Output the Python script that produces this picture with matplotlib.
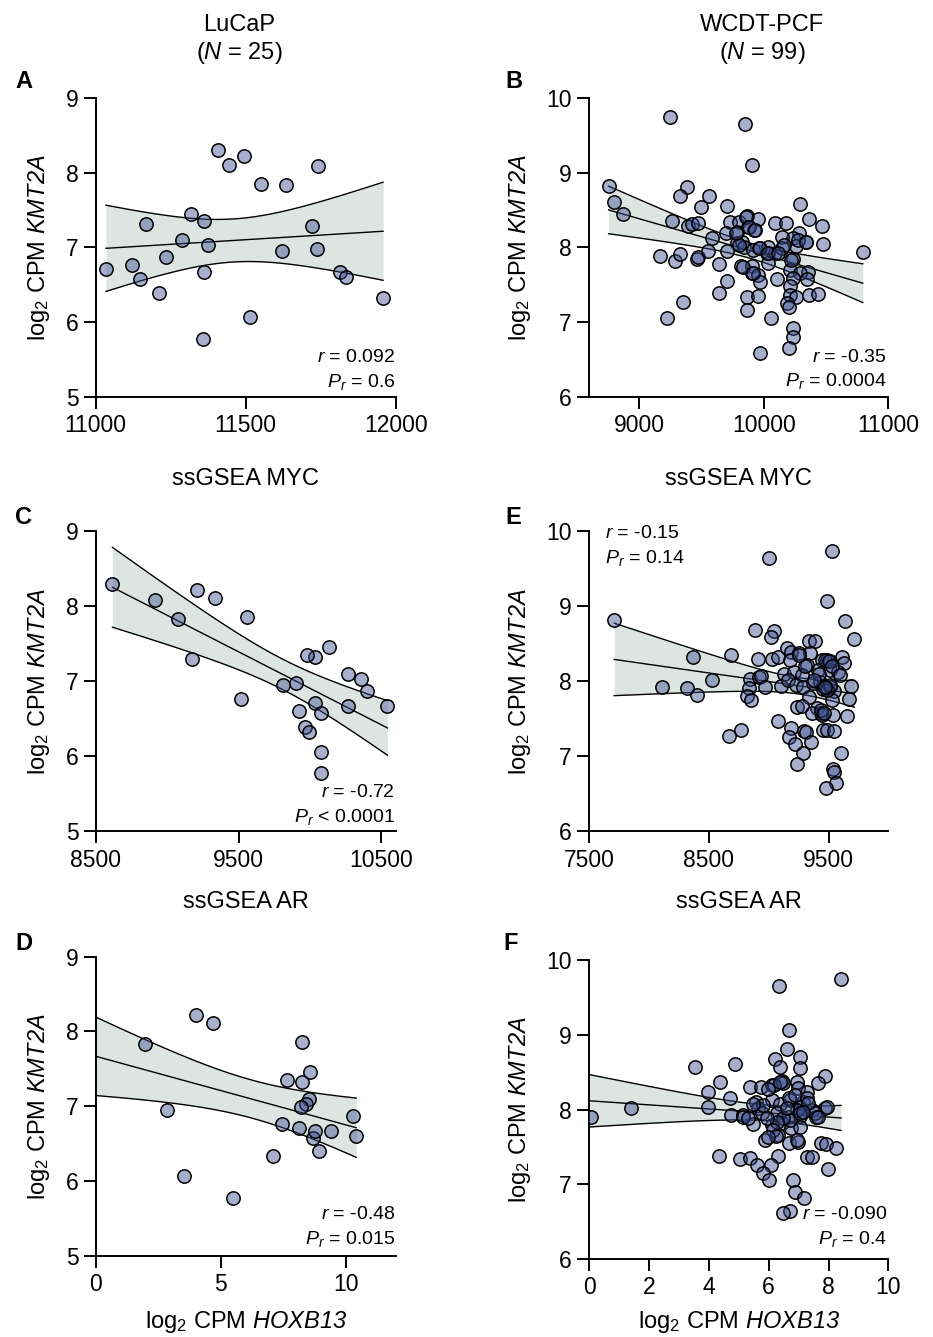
import math
import matplotlib
matplotlib.use("Agg")
import matplotlib.pyplot as plt
import numpy as np

plt.rcParams['font.family'] = ['Liberation Sans', 'DejaVu Sans']
plt.rcParams['mathtext.fontset'] = 'custom'
plt.rcParams['mathtext.rm'] = 'Liberation Sans'
plt.rcParams['mathtext.it'] = 'Liberation Sans:italic'
plt.rcParams['mathtext.sf'] = 'Liberation Sans:italic'   # italic incl. digits
plt.rcParams['mathtext.bf'] = 'Liberation Sans:bold'

# LuCaP cohort (N = 25) - same sample order in every array
y_lucap = [6.71, 6.765, 6.577, 7.32, 6.397, 6.872, 7.095, 7.453, 7.351, 7.034,
           6.674, 5.777, 8.302, 8.109, 8.226, 6.066, 7.856, 7.832, 6.954, 7.293,
           8.084, 6.985, 6.673, 6.607, 6.328]
x_lucap_myc = [11034, 11122, 11149, 11169, 11212, 11233, 11288, 11319, 11361, 11374,
               11361, 11357, 11409, 11444, 11494, 11514, 11551, 11633, 11622, 11722,
               11742, 11739, 11814, 11833, 11958]
x_lucap_ar = [10037, 9520, 10079, 10034, 9964, 10397, 10264, 10133, 9981, 10359,
              10268, 10074, 8617, 9333, 9211, 10079, 9562, 9078, 9810, 9174,
              8916, 9903, 10542, 9924, 9992]
# three samples fall below 0 on the HOXB13 axis (outside the plotted range)
x_lucap_hoxb13 = [8.12, 7.46, 8.70, 8.26, 8.94, 10.28, 8.52, 8.59, 7.66, 8.43,
                  8.77, 5.50, -1.0, 4.68, 4.03, 3.54, 8.27, 1.96, 2.86, -1.2,
                  -0.8, 8.20, 9.40, 10.42, 7.11]

# WCDT-PCF cohort (N = 99)
x_wcdt_myc = [9909, 8755, 8798, 8868, 9387, 9328, 9561, 9497, 9703, 10291,
              9261, 9390, 9427, 9470, 9730, 9804, 9863, 9871, 9957, 9925,
              10091, 10179, 10364, 10471, 10479, 10795, 10286, 10238, 10150, 10340,
              10259, 9588, 9783, 9783, 9823, 9842, 9917, 9970, 10024, 10091,
              10144, 10037, 9168, 9288, 9328, 9462, 9475, 9556, 9703, 9641,
              9818, 9903, 10037, 10232, 10211, 10358, 10291, 9903, 9957, 9703,
              9970, 10104, 10238, 10345, 10211, 9641, 9863, 9957, 10211, 10259,
              10367, 10439, 9355, 9869, 10184, 10206, 9226, 10059, 10238, 10238,
              10206, 9970, 9248, 9852, 9799, 9858, 9884, 9932, 9965, 10032,
              10165, 10219, 10273, 10339, 9831, 9911, 10112, 9697, 9777]
y_wcdt_myc = [9.108, 8.823, 8.604, 8.444, 8.814, 8.689, 8.689, 8.546, 8.555, 8.578,
              8.355, 8.292, 8.314, 8.332, 8.337, 8.346, 8.42, 8.279, 8.377, 8.234,
              8.323, 8.323, 8.377, 8.288, 8.042, 7.944, 8.19, 8.123, 8.145, 8.078,
              8.025, 8.123, 8.212, 8.056, 8.078, 8.002, 7.967, 7.989, 7.922, 7.922,
              7.989, 8.002, 7.886, 7.82, 7.913, 7.842, 7.877, 7.958, 7.958, 7.775,
              7.753, 7.753, 7.797, 7.842, 7.699, 7.677, 7.655, 7.655, 7.632, 7.557,
              7.534, 7.574, 7.588, 7.574, 7.485, 7.387, 7.333, 7.351, 7.365, 7.342,
              7.365, 7.373, 7.276, 7.164, 7.253, 7.209, 7.053, 7.053, 6.919, 6.807,
              6.651, 6.593, 9.746, 9.656, 8.033, 8.412, 8.278, 8.234, 7.989, 7.922,
              8.033, 7.833, 8.10, 8.078, 7.743, 7.654, 7.922, 8.19, 8.19]

x_wcdt_ar = [8885, 9047, 9016, 9641, 9716, 9485, 9340, 9387, 8682, 8370,
             8913, 9025, 9080, 9156, 9186, 9256, 9345, 9610, 9630, 9443,
             9485, 9513, 9415, 9317, 9178, 9131, 9212, 9276, 9513, 9582,
             8523, 8844, 8919, 8936, 8969, 8838, 8821, 8852, 8403, 8317,
             9100, 9164, 9228, 9290, 9368, 9429, 9457, 9485, 9513, 9549,
             9688, 9671, 9340, 9526, 9234, 9276, 9401, 9434, 9359, 9540,
             9657, 9443, 9080, 9186, 9298, 9312, 9451, 9485, 9546, 8766,
             8671, 9173, 9220, 9351, 9290, 9602, 9234, 9540,
             7709, 9000, 9529, 8105, 9549, 9563, 9479,
             9470, 9500, 9530, 9455, 9490, 9510, 9470, 9420, 9380, 9300,
             9250, 9440, 9460, 9600]
y_wcdt_ar = [8.687, 8.677, 8.597, 8.802, 8.562, 9.078, 8.544, 8.544, 8.352, 8.321,
             8.299, 8.299, 8.321, 8.441, 8.397, 8.375, 8.375, 8.33, 8.241, 8.285,
             8.285, 8.276, 8.152, 8.219, 8.285, 8.098, 8.13, 8.085, 8.152, 8.13,
             8.018, 8.032, 8.054, 8.072, 7.929, 7.907, 7.804, 7.751, 7.818, 7.907,
             7.938, 8.018, 7.951, 7.929, 7.974, 7.996, 7.938, 7.907, 7.92, 7.876,
             7.938, 7.769, 7.795, 7.751, 7.662, 7.671, 7.64, 7.573, 7.573, 7.551,
             7.542, 7.551, 7.475, 7.386, 7.341, 7.328, 7.359, 7.35, 7.341, 7.359,
             7.27, 7.261, 7.163, 7.194, 7.047, 7.047, 6.904, 6.837,
             8.82, 9.648, 9.742, 7.929, 6.793, 6.646, 6.584,
             8.28, 8.27, 8.20, 7.90, 7.88, 7.95, 7.92, 8.10, 8.02, 8.20,
             8.35, 7.62, 7.58, 8.08]

# a few samples sit below 0 on the HOXB13 axis (clipped, as in panel D)
x_wcdt_hoxb13 = [6.69, 6.60, 6.21, 7.05, 7.05, 6.38, 4.87, 7.88, 7.66, 4.37,
                 5.37, 5.74, 6.10, 6.43, 6.49, 6.94, 6.99, 7.29, 3.98, 4.71,
                 6.10, 5.57, 6.71, 7.16, 3.98, 5.65, 6.38, 7.05, 7.44, 7.88,
                 4.73, 5.15, 5.76, 6.27, 6.66, 7.05, 7.58, 5.46, 6.10, 6.43,
                 6.73, 7.05, 6.32, 5.88, 6.69, 6.97, 7.74, 7.92, 8.24, 4.34,
                 5.04, 5.37, 6.32, 7.27, 7.46, 5.62, 6.08, 7.99, 5.80, 6.02,
                 6.80, 6.88, 7.19, 6.71, 6.49,
                 0.06, 1.39, 3.55, 6.35, 8.42,
                 5.15, 6.18, 6.38, 5.99, 6.69, 6.88, 7.27, 7.33, 7.55,
                 7.66, 7.94, 6.94, 6.71, 6.49, 6.27, 6.15, 6.24, 5.99,
                 6.94, 7.05, 7.16, 6.62, 5.82, 5.49, 5.93, 5.32,
                 -1.6, -2.0, -2.4]
y_wcdt_hoxb13 = [9.06, 8.81, 8.68, 8.70, 8.55, 8.564, 8.604, 8.448, 8.35, 8.372,
                 8.305, 8.305, 8.328, 8.386, 8.35, 8.372, 8.283, 8.239, 8.239, 8.15,
                 8.127, 8.105, 8.127, 8.105, 8.038, 8.016, 8.074, 8.038, 7.993, 8.016,
                 7.926, 7.926, 7.949, 7.949, 7.895, 7.913, 7.904, 7.806, 7.793, 7.815,
                 7.748, 7.77, 7.659, 7.592, 7.547, 7.57, 7.556, 7.538, 7.48, 7.382,
                 7.338, 7.347, 7.378, 7.36, 7.36, 7.258, 7.258, 7.2, 7.155, 7.057,
                 7.057, 6.901, 6.812, 6.647, 6.611,
                 7.904, 8.02, 8.573, 9.652, 9.746,
                 7.895, 8.328, 8.372, 8.27, 8.149, 8.194, 8.149, 8.082, 7.949,
                 7.904, 8.038, 7.993, 7.86, 7.882, 7.837, 7.726, 7.646, 7.637,
                 7.592, 7.949, 7.971, 8.016, 8.06, 8.074, 7.882, 7.882,
                 8.25, 8.30, 8.35]

POINT_FACE = (0.24, 0.31, 0.56, 0.45)
BAND_COLOR = '#dde5e3'
YLABEL = r'log$_2$ CPM $\mathsf{KMT2A}$'
HOX_LABEL = r'log$_2$ CPM $\mathsf{HOXB13}$'


def t_quantile(p, df):
    # quantile of Student's t by integrating its density
    xs = np.linspace(0, 12, 24001)
    c = math.exp(math.lgamma((df + 1) / 2) - math.lgamma(df / 2)) / math.sqrt(df * math.pi)
    pdf = c * (1 + xs ** 2 / df) ** (-(df + 1) / 2)
    cdf = 0.5 + np.concatenate([[0], np.cumsum((pdf[1:] + pdf[:-1]) / 2 * np.diff(xs))])
    return np.interp(p, cdf, xs)


def panel(rect, x, y, xlim, xticks, ylim, xlabel, xpad, stats, stats_pos, letter, letter_xy):
    x = np.asarray(x, float)
    y = np.asarray(y, float)
    ax = fig.add_axes(rect)

    # linear fit with 95% confidence band
    n = len(x)
    slope, icpt = np.polyfit(x, y, 1)
    resid = y - (slope * x + icpt)
    s = math.sqrt(np.sum(resid ** 2) / (n - 2))
    xm = x.mean()
    sxx = np.sum((x - xm) ** 2)
    xx = np.linspace(x.min(), x.max(), 300)
    yy = slope * xx + icpt
    half = t_quantile(0.975, n - 2) * s * np.sqrt(1.0 / n + (xx - xm) ** 2 / sxx)
    ax.fill_between(xx, yy - half, yy + half, color=BAND_COLOR, lw=0, zorder=1)
    for line in (yy, yy - half, yy + half):
        ax.plot(xx, line, color='black', lw=1.0, zorder=2)

    ax.scatter(x, y, s=92, facecolor=POINT_FACE, edgecolor='black', linewidth=1.1, zorder=3)

    ax.set_xlim(*xlim)
    ax.set_ylim(*ylim)
    ax.set_xticks(xticks)
    ax.set_yticks(np.arange(ylim[0], ylim[1] + 1))
    for sp in ('top', 'right'):
        ax.spines[sp].set_visible(False)
    for sp in ('left', 'bottom'):
        ax.spines[sp].set_linewidth(1.4)
    ax.tick_params(direction='out', length=8.5, width=1.4, labelsize=16.5, pad=4)
    ax.set_xlabel(xlabel, fontsize=17, labelpad=xpad)
    ax.set_ylabel(YLABEL, fontsize=17, labelpad=10)

    tx, ty1, ty2, ha = stats_pos
    ax.text(tx, ty1, r'$r$ = ' + stats[0], transform=ax.transAxes, ha=ha, va='baseline', fontsize=14)
    ax.text(tx, ty2, r'$P_r$ ' + stats[1], transform=ax.transAxes, ha=ha, va='baseline', fontsize=14)

    fig.text(letter_xy[0] / 933, 1 - letter_xy[1] / 1337, letter, fontsize=17,
             fontweight='bold', ha='center', va='center')
    return ax


fig = plt.figure(figsize=(9.33, 13.37), dpi=100)

L = (0.1026, 0.3215)
R = (0.6316, 0.3205)

panel((L[0], 0.7031, L[1], 0.2236), x_lucap_myc, y_lucap, (11000, 12000), [11000, 11500, 12000],
      (5, 9), 'ssGSEA MYC', 22, ('0.092', '= 0.6'), (0.998, 0.116, 0.034, 'right'), 'A', (24, 82))
panel((R[0], 0.7031, R[1], 0.2236), x_wcdt_myc, y_wcdt_myc, (8600, 11000), [9000, 10000, 11000],
      (6, 10), 'ssGSEA MYC', 22, ('-0.35', '= 0.0004'), (0.995, 0.118, 0.037, 'right'), 'B', (514, 82))
panel((L[0], 0.3781, L[1], 0.2244), x_lucap_ar, y_lucap, (8500, 10600), [8500, 9500, 10500],
      (5, 9), 'ssGSEA AR', 14, ('-0.72', '< 0.0001'), (0.998, 0.116, 0.033, 'right'), 'C', (24, 517))
panel((R[0], 0.3781, R[1], 0.2244), x_wcdt_ar, y_wcdt_ar, (7500, 10000), [7500, 8500, 9500],
      (6, 10), 'ssGSEA AR', 14, ('-0.15', '= 0.14'), (0.054, 0.977, 0.895, 'left'), 'E', (513, 517))
panel((L[0], 0.0608, L[1], 0.2236), x_lucap_hoxb13, y_lucap, (0, 12), [0, 5, 10],
      (5, 9), HOX_LABEL, 9, ('-0.48', '= 0.015'), (0.998, 0.122, 0.039, 'right'), 'D', (24, 943))
panel((R[0], 0.0583, R[1], 0.2236), x_wcdt_hoxb13, y_wcdt_hoxb13, (0, 10), [0, 2, 4, 6, 8, 10],
      (6, 10), HOX_LABEL, 7, ('-0.090', '= 0.4'), (0.995, 0.133, 0.050, 'right'), 'F', (511, 943))

# column headers
fig.text(239 / 933, 1 - 25 / 1337, 'LuCaP', fontsize=17, ha='center', va='center')
fig.text(239 / 933, 1 - 53 / 1337, r'($\mathsf{N}$ = 25)', fontsize=17, ha='center', va='center')
fig.text(762 / 933, 1 - 25 / 1337, 'WCDT-PCF', fontsize=17, ha='center', va='center')
fig.text(762 / 933, 1 - 53 / 1337, r'($\mathsf{N}$ = 99)', fontsize=17, ha='center', va='center')

fig.savefig('out.png', dpi=100)
